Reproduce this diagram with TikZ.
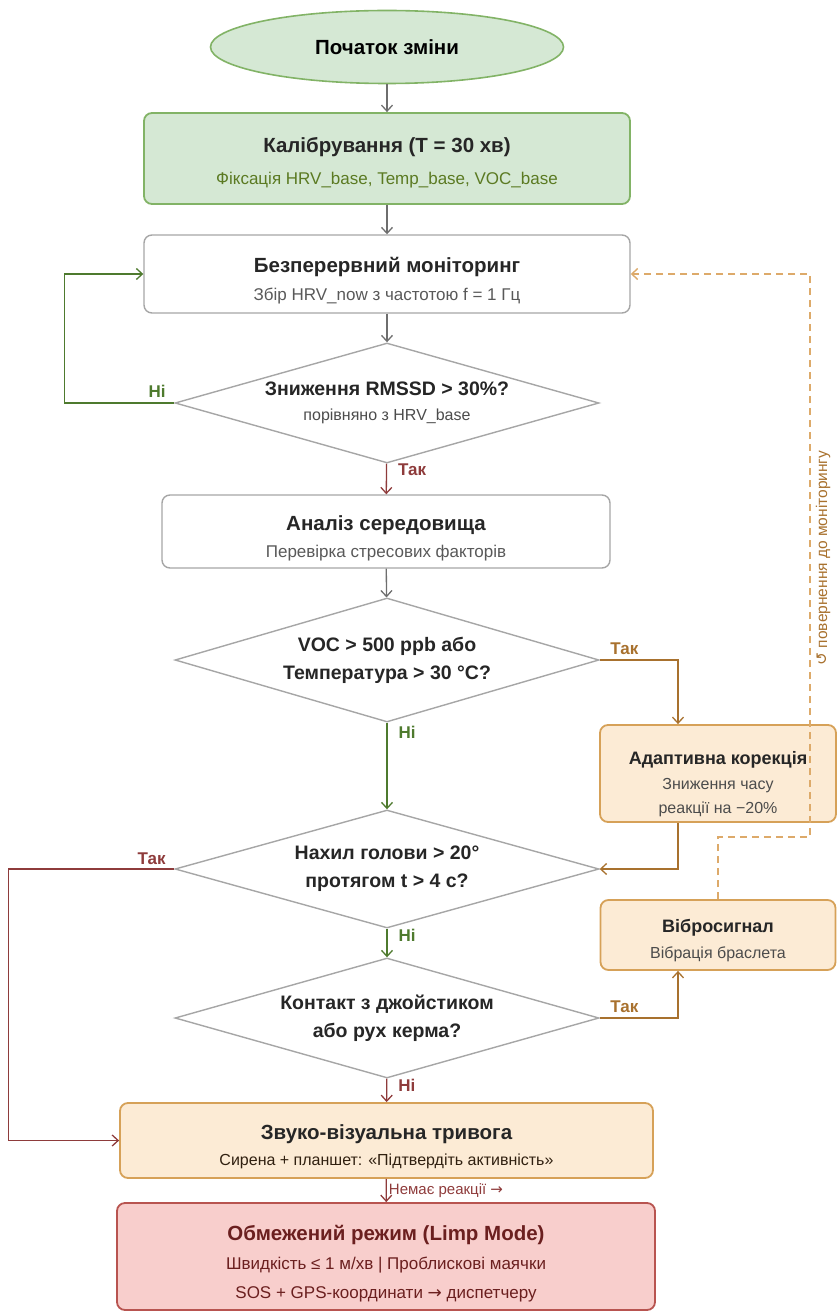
\documentclass[tikz,border=0pt]{standalone}
\usepackage{fontspec}
\setmainfont{Liberation Sans}
\newfontfamily\symfont{DejaVu Sans}
\usetikzlibrary{%
  arrows.meta,%
  shapes.geometric,% ellipse, diamond
  positioning,%
  calc%
}

\definecolor{grnfill}{HTML}{D5E8D4}
\definecolor{grndraw}{HTML}{82B366}
\definecolor{grnline}{HTML}{4E7A2E}
\definecolor{grnsub}{HTML}{5B7A22}
\definecolor{greydraw}{HTML}{A6A6A6}
\definecolor{greyline}{HTML}{6E6E6E}
\definecolor{redline}{HTML}{8E3B3B}
\definecolor{brnline}{HTML}{A8712E}
\definecolor{orgfill}{HTML}{FCEBD5}
\definecolor{orgdraw}{HTML}{D6A158}
\definecolor{retline}{HTML}{DDAA6A}
\definecolor{limpfill}{HTML}{F8CECC}
\definecolor{limpdraw}{HTML}{B85450}
\definecolor{limptext}{HTML}{6B1F1F}

\newcommand{\ttl}{\fontsize{20.5}{24}\selectfont\bfseries}
\newcommand{\sbt}{\fontsize{17}{20}\selectfont\mdseries}
\newcommand{\dtx}{\fontsize{19.5}{28}\selectfont\bfseries}
\newcommand{\sml}{\fontsize{16}{19}\selectfont\mdseries\color{black!70}}
\newcommand{\sidettl}{\fontsize{18}{21}\selectfont\bfseries}
\newcommand{\arr}{{\symfont →}}

\begin{document}
\begin{tikzpicture}[
  x=1pt, y=-1pt,
  >={Straight Barb[length=6pt,width=11pt]},
  line width=1.3pt,
  font=\sbt,
  startnode/.style={ellipse, draw=grndraw, fill=grnfill, line width=1.6pt, minimum width=353, minimum height=73, inner sep=0pt},
  calbox/.style={rectangle, rounded corners=8pt, draw=grndraw, fill=grnfill, line width=1.8pt, minimum width=486, minimum height=91, align=center, text=black!85},
  plainbox/.style={rectangle, rounded corners=8pt, draw=greydraw, fill=white, line width=1.4pt, align=center, text=black!85},
  warnbox/.style={rectangle, rounded corners=8pt, draw=orgdraw, fill=orgfill, line width=1.8pt, align=center, text=black!85},
  limpbox/.style={rectangle, rounded corners=8pt, draw=limpdraw, fill=limpfill, line width=1.8pt, minimum width=538, minimum height=107, align=center, text=limptext},
  decision/.style={diamond, aspect=3.5, draw=greydraw, fill=white, line width=1.4pt, inner sep=0pt, minimum width=424, minimum height=120, align=center, font=\dtx, text=black!85},
  flow/.style={->, draw=greyline},
  yesred/.style={->, draw=redline},
  nogreen/.style={->, draw=grnline},
  yesbrn/.style={->, draw=brnline},
  lbl/.style={font=\fontsize{17}{20}\selectfont\bfseries, inner sep=2pt}
]
\useasboundingbox (0,0) rectangle (837,1313);

% main column
\node[startnode] (start) at (387,47) {\ttl Початок зміни};
\node[calbox] (calib) at (387,158.5)
  {\ttl\rule{0pt}{24pt}Калібрування (T = 30 хв)\\[12pt]\sbt\color{grnsub}Фіксація HRV\_base, Temp\_base, VOC\_base};
\node[plainbox, minimum width=486, minimum height=78] (mon) at (387,274)
  {\ttl\rule{0pt}{28pt}Безперервний моніторинг\\[8pt]\sbt\color{black!65}Збір HRV\_now з частотою f = 1 Гц};
\node[decision] (d1) at (387,403)
  {Зниження RMSSD > 30\%?\\[-3pt]\sml порівняно з HRV\_base};
\node[plainbox, minimum width=448, minimum height=73] (ana) at (386,531.5)
  {\ttl\rule{0pt}{28pt}Аналіз середовища\\[7pt]\sbt\color{black!65}Перевірка стресових факторів};
\node[decision, minimum height=124] (d2) at (387,660)
  {VOC > 500 ppb або\\Температура > 30 °C?};
\node[decision, minimum height=118] (d3) at (387,869)
  {Нахил голови > 20°\\протягом t > 4 с?};
\node[decision] (d4) at (387,1018)
  {Контакт з джойстиком\\або рух керма?};
\node[warnbox, minimum width=533, minimum height=75] (alert) at (386.5,1140.5)
  {\ttl\rule{0pt}{28pt}Звуко-візуальна тривога\\[6pt]\sml\color{black!75!brown}Сирена + планшет: «Підтвердіть активність»};
\node[limpbox] (limp) at (386,1256.5)
  {\ttl\rule{0pt}{30pt}Обмежений режим (Limp Mode)\\[9pt]\sbt Швидкість ≤ 1 м/хв | Проблискові маячки\\[9pt]SOS + GPS-координати \arr{} диспетчеру};

% side boxes
\node[warnbox, minimum width=236, minimum height=97] (ada) at (718,773.5)
  {\sidettl\rule{0pt}{34pt}Адаптивна корекція\\[5pt]\sml Зниження часу\\[4pt]\sml реакції на −20\%};
\node[warnbox, minimum width=235, minimum height=70] (vib) at (718,935)
  {\sidettl\rule{0pt}{24pt}Вібросигнал\\[6pt]\sml Вібрація браслета};

\coordinate (ret) at (810,837);
\node[rotate=90, text=brnline, font=\fontsize{15.5}{18}\selectfont] (retlbl) at (823,558)
  {{\symfont ↺} повернення до моніторингу};

% connectors
\draw[flow] (start) -- (calib);
\draw[flow] (calib) -- (mon);
\draw[flow] (mon) -- (d1);
\draw[yesred] (d1) -- (ana) node[lbl, pos=0, anchor=north west, xshift=9pt, yshift=2pt, text=redline] {Так};
\draw[nogreen] (d1.west) -- ++(-110,0) node[lbl, pos=0, anchor=south east, xshift=-6pt, yshift=3pt, text=grnline] {Ні} |- (mon.west);
\draw[flow] (ana) -- (d2);
\draw[yesbrn] (d2.east) -| ([xshift=-40pt]ada.north) node[lbl, pos=0, anchor=south west, xshift=8pt, yshift=3pt, text=brnline] {Так};
\draw[nogreen] (d2) -- (d3) node[lbl, pos=0, anchor=north west, xshift=9pt, yshift=-1pt, text=grnline] {Ні};
\draw[yesbrn] ([xshift=-40pt]ada.south) |- (d3.east);
\draw[yesred] (d3.west) -- ++(-166,0) node[lbl, pos=0, anchor=south east, xshift=-6pt, yshift=2pt, text=redline] {Так} |- (alert.west);
\draw[nogreen] (d3) -- (d4) node[lbl, pos=0, anchor=north west, xshift=9pt, yshift=2pt, text=grnline] {Ні};
\draw[yesbrn] (d4.east) -| ([xshift=-40pt]vib.south) node[lbl, pos=0, anchor=south west, xshift=8pt, yshift=3pt, text=brnline] {Так};
\draw[yesred] (d4) -- (alert) node[lbl, pos=0, anchor=north west, xshift=9pt, yshift=2pt, text=redline] {Ні};
\draw[yesred] (alert) -- (limp) node[midway, right, inner sep=2pt, text=redline, font=\fontsize{15}{18}\selectfont] {Немає реакції \arr};
\draw[->, draw=retline, line width=1.4pt, dash pattern=on 7pt off 5pt] (vib.north) |- (ret) |- (mon.east);

\end{tikzpicture}
\end{document}
